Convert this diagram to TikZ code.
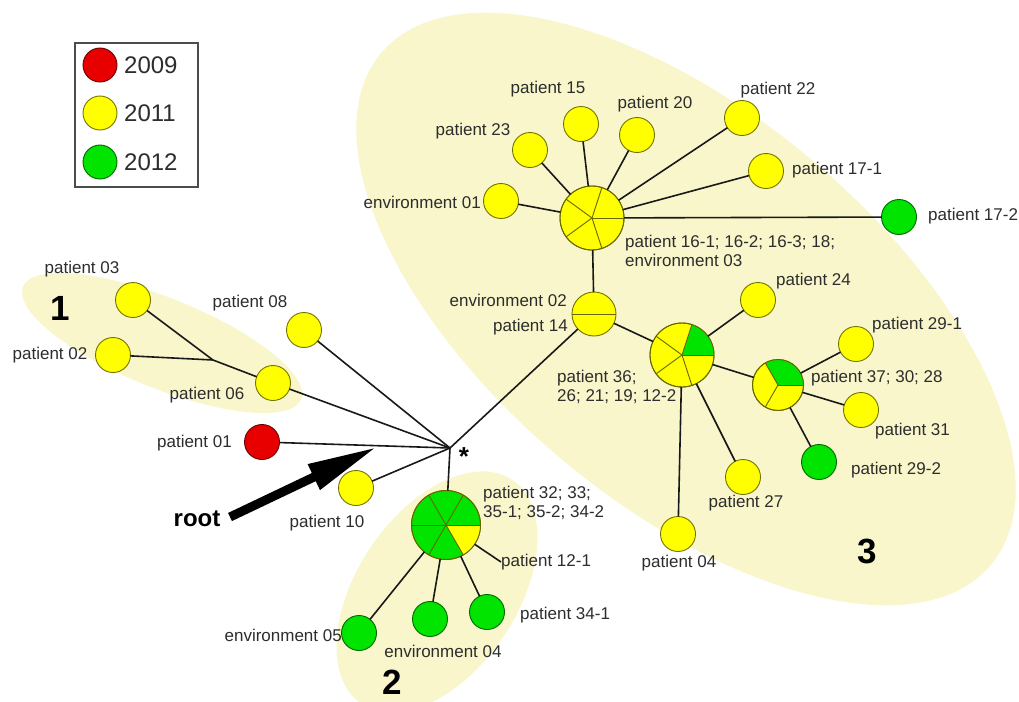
\documentclass[tikz,border=0pt]{standalone}
\usepackage{fontspec}
\setmainfont{Liberation Sans}
\usetikzlibrary{arrows.meta}
\definecolor{cy}{RGB}{255,255,0}
\definecolor{cg}{RGB}{0,228,0}
\definecolor{cr}{RGB}{232,0,0}
\definecolor{pale}{RGB}{248,246,202}
\definecolor{txt}{RGB}{45,45,45}
\begin{document}
\begin{tikzpicture}[x=1pt,y=1pt,
  dot/.style={circle, draw=#1!45!black, fill=#1, line width=0.9pt, minimum size=35pt, inner sep=0pt, outer sep=0pt},
  pie/.style={circle, draw=cy!45!black, fill=#1, line width=0.9pt, inner sep=0pt, outer sep=0pt},
  sect/.style={draw=cy!40!black, line width=0.9pt},
  ring/.style={draw=cy!40!black, line width=0.9pt},
  link/.style={draw=black!90, line width=1.6pt},
  lbl/.style={font=\fontsize{17}{19.5}\selectfont, text=txt, inner sep=0pt, align=left},
  grp/.style={font=\bfseries\fontsize{35}{37}\selectfont, text=black, inner sep=0pt},
  leg/.style={font=\fontsize{24}{26}\selectfont, text=txt, inner sep=0pt, anchor=west},
  halo/.style={fill=pale}
]
\useasboundingbox (0,0) rectangle (1019,-701);
\clip (0,0) rectangle (1019,-701);
\fill[white] (0,0) rectangle (1019,-701);

% cluster backgrounds
\fill[halo, rotate around={-22:(162,-343)}] (162,-343) ellipse[x radius=150, y radius=45];
\fill[halo, rotate around={56:(437,-592)}] (437,-592) ellipse[x radius=135, y radius=80];
\fill[halo, rotate around={-40:(686,-309)}] (686,-309) ellipse[x radius=398, y radius=195];

% legend
\draw[draw=black!70, line width=1.2pt] (75,-43) rectangle (198,-187);
\node[dot=cr, minimum size=34pt] (lg1) at (100,-65) {};
\node[dot=cy, minimum size=34pt] (lg2) at (100,-113) {};
\node[dot=cg, minimum size=34pt] (lg3) at (100,-162) {};
\node[leg] (lt1) at (124,-65) {2009};
\node[leg] (lt2) at (124,-113) {2011};
\node[leg] (lt3) at (124,-162) {2012};

% nodes, group 1 and outliers
\coordinate (hub) at (450,-448);
\coordinate (j1) at (213,-360);
\node[dot=cy] (p03) at (133,-300) {};
\node[dot=cy] (p02) at (113,-355) {};
\node[dot=cy] (p06) at (273,-383) {};
\node[dot=cy] (p08) at (304,-330) {};
\node[dot=cr] (p01) at (262,-442) {};
\node[dot=cy] (p10) at (356,-488) {};

% group 2
\node[pie=cg, minimum size=69pt] (pD) at (446,-525) {};
\node[dot=cg] (e05) at (359,-633) {};
\node[dot=cg] (e04) at (430,-619) {};
\node[dot=cg] (p341) at (487,-612) {};

% group 3
\node[pie=cy, minimum size=44pt] (e02) at (594,-314) {};
\node[pie=cy, minimum size=64pt] (pA) at (592,-218) {};
\node[dot=cy] (e01) at (501,-201) {};
\node[dot=cy] (p23) at (530,-150) {};
\node[dot=cy] (p15) at (581,-124) {};
\node[dot=cy] (p20) at (637,-135) {};
\node[dot=cy] (p22) at (742,-118) {};
\node[dot=cy] (p171) at (766,-171) {};
\node[dot=cg] (p172) at (899,-217) {};
\node[pie=cy, minimum size=64pt] (pB) at (682,-355) {};
\node[dot=cy] (p24) at (758,-300) {};
\node[pie=cy, minimum size=51pt] (pC) at (778,-385) {};
\node[dot=cy] (p291) at (856,-344) {};
\node[dot=cy] (p31) at (861,-410) {};
\node[dot=cg] (p292) at (819,-462) {};
\node[dot=cy] (p27) at (743,-477) {};
\node[dot=cy] (p04) at (678,-534) {};

% pie sectors
\fill[cg] (pB.center) -- ++(0:32) arc[start angle=0, end angle=72, radius=32] -- cycle;
\foreach \a in {0,72,144,216,288} {
  \draw[sect] (pA.center) -- ++(\a:32);
  \draw[sect] (pB.center) -- ++(\a:32);
}
\draw[ring] (pA.center) circle[radius=32];
\draw[ring] (pB.center) circle[radius=32];
\fill[cg] (pC.center) -- ++(0:25.5) arc[start angle=0, end angle=120, radius=25.5] -- cycle;
\foreach \a in {0,120,240} \draw[sect] (pC.center) -- ++(\a:25.5);
\draw[ring] (pC.center) circle[radius=25.5];
\draw[sect] (e02.west) -- (e02.east);
\fill[cy] (pD.center) -- ++(-60:34.5) arc[start angle=-60, end angle=0, radius=34.5] -- cycle;
\foreach \a in {0,60,120,180,240,300} \draw[sect] (pD.center) -- ++(\a:34.5);
\draw[ring] (pD.center) circle[radius=34.5];

% connectors
\draw[link] (p03) -- (j1);
\draw[link] (p02) -- (j1);
\draw[link] (j1) -- (p06);
\draw[link] (p06) -- (hub);
\draw[link] (p08) -- (hub);
\draw[link] (p01) -- (hub);
\draw[link] (p10) -- (hub);
\draw[link] (hub) -- (pD);
\draw[link] (hub) -- (e02);
\draw[link] (e02) -- (pA);
\draw[link] (e02) -- (pB);
\foreach \n in {e01,p23,p15,p20,p22,p171,p172} \draw[link] (pA) -- (\n);
\foreach \n in {p24,pC,p27,p04} \draw[link] (pB) -- (\n);
\foreach \n in {p291,p31,p292} \draw[link] (pC) -- (\n);
\foreach \n in {e05,e04,p341} \draw[link] (pD) -- (\n);

% root arrow
\coordinate (rtail) at (230,-517);
\coordinate (rtip) at (377,-447);
\draw[line width=9pt, -{Triangle[length=70pt, width=26pt]}] (rtail) -- (rtip);
\node[font=\bfseries\fontsize{24}{26}\selectfont, inner sep=0pt] (root) at (197,-519) {root};
\node[font=\bfseries\fontsize{26}{28}\selectfont, inner sep=0pt] (star) at (464,-457) {*};

% labels
\node[lbl] (t03) at (82,-269) {patient 03};
\node[lbl] (t02) at (50,-355) {patient 02};
\node[lbl] (t06) at (207,-395) {patient 06};
\node[lbl] (t08) at (250,-303) {patient 08};
\node[lbl, anchor=east] (t01) at (232,-443) {patient 01};
\node[lbl] (t10) at (327,-523) {patient 10};
\node[lbl, anchor=west] (tD) at (483,-503) {patient 32; 33;\\35-1; 35-2; 34-2};
\node[lbl, anchor=west] (t121) at (501,-562) {patient 12-1};
\draw[link] (pD) -- (t121.west);
\node[lbl, anchor=west] (t341) at (520,-615) {patient 34-1};
\node[lbl, anchor=east] (t05) at (342,-635) {environment 05};
\node[lbl] (t04e) at (443,-651) {environment 04};
\node[lbl, anchor=east] (te01) at (481,-202) {environment 01};
\node[lbl] (t23) at (473,-131) {patient 23};
\node[lbl] (t15) at (548,-89) {patient 15};
\node[lbl] (t20) at (655,-104) {patient 20};
\node[lbl] (t22) at (778,-90) {patient 22};
\node[lbl, anchor=west] (t171) at (792,-170) {patient 17-1};
\node[lbl, anchor=west] (t172) at (928,-216) {patient 17-2};
\node[lbl, anchor=west] (tA) at (625,-251) {patient 16-1; 16-2; 16-3; 18;\\environment 03};
\node[lbl, anchor=east] (te02) at (567,-300) {environment 02};
\node[lbl, anchor=east] (t14) at (568,-327) {patient 14};
\node[lbl, anchor=west] (t24) at (776,-281) {patient 24};
\node[lbl, anchor=west] (t291) at (872,-325) {patient 29-1};
\node[lbl, anchor=west] (tC) at (811,-378) {patient 37; 30; 28};
\node[lbl, anchor=west] (t31) at (875,-431) {patient 31};
\node[lbl, anchor=west] (t292) at (851,-470) {patient 29-2};
\node[lbl] (t27) at (746,-503) {patient 27};
\node[lbl] (t04) at (679,-563) {patient 04};
\node[lbl, anchor=west] (tB) at (557,-387) {patient 36;\\26; 21; 19; 12-2};

% group numbers
\node[grp] (g1) at (60,-308) {1};
\node[grp] (g2) at (392,-682) {2};
\node[grp] (g3) at (867,-551) {3};
\end{tikzpicture}
\end{document}
